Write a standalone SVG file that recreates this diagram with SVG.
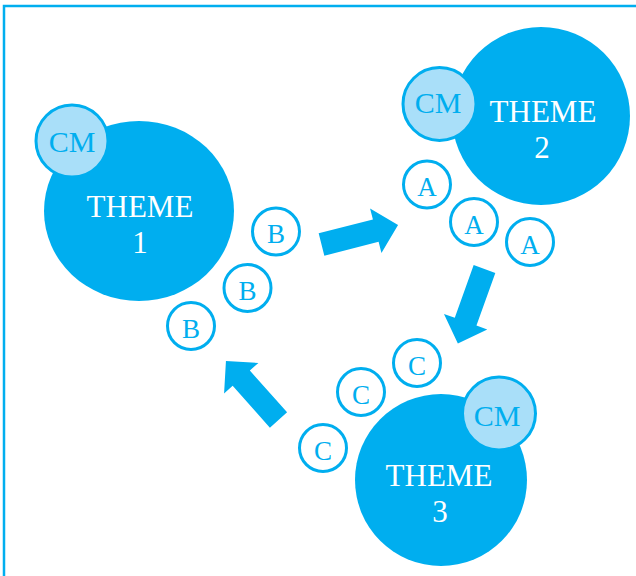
<svg xmlns="http://www.w3.org/2000/svg" xmlns:xlink="http://www.w3.org/1999/xlink" width="636" height="576" viewBox="0 0 636 576">
  <style>
    .frame { fill: none; stroke: #00AEEF; stroke-width: 2.5; }
    .theme { fill: #00AEEF; }
    .theme-label { font-family: "Liberation Serif", "Times New Roman", serif; font-size: 31px; fill: #FFFFFF; text-anchor: middle; }
    .cm { fill: #A9DFF9; stroke: #00AEEF; stroke-width: 3; }
    .cm-label { font-family: "Liberation Serif", "Times New Roman", serif; font-size: 30px; fill: #00AEEF; text-anchor: middle; }
    .item { fill: #FFFFFF; stroke: #00AEEF; stroke-width: 3; }
    .item-label { font-family: "Liberation Serif", "Times New Roman", serif; font-size: 27px; fill: #00AEEF; text-anchor: middle; }
    .arrow { fill: #00AEEF; }
  </style>
  <defs>
    <!-- block arrow pointing along +x, tail centred on the origin -->
    <path id="block-arrow" d="M0,-11.5 L56,-11.5 L56,-23 L79,0 L56,23 L56,11.5 L0,11.5 Z"/>
  </defs>

  <rect class="frame" x="4" y="6" width="640" height="580"/>

  <g id="theme1">
    <ellipse class="theme" cx="139" cy="211" rx="95" ry="90"/>
    <text class="theme-label" x="140" y="217">THEME</text>
    <text class="theme-label" x="140" y="253">1</text>
    <circle class="cm" cx="72" cy="141" r="36"/>
    <text class="cm-label" x="72" y="152">CM</text>
  </g>

  <g id="theme2">
    <circle class="theme" cx="541" cy="116" r="89"/>
    <text class="theme-label" x="543" y="122">THEME</text>
    <text class="theme-label" x="542" y="158">2</text>
    <circle class="cm" cx="439.5" cy="104" r="36.5"/>
    <text class="cm-label" x="438" y="113">CM</text>
  </g>

  <g id="theme3">
    <circle class="theme" cx="441" cy="480" r="86"/>
    <text class="theme-label" x="439" y="486">THEME</text>
    <text class="theme-label" x="440" y="522">3</text>
    <circle class="cm" cx="499" cy="413.5" r="36.5"/>
    <text class="cm-label" x="497" y="426">CM</text>
  </g>

  <g id="items-a">
    <circle class="item" cx="427" cy="184.5" r="23.5"/>
    <text class="item-label" x="427" y="196">A</text>
    <circle class="item" cx="474" cy="222" r="23.5"/>
    <text class="item-label" x="474" y="233.5">A</text>
    <circle class="item" cx="530" cy="242" r="23.5"/>
    <text class="item-label" x="530" y="253.5">A</text>
  </g>

  <g id="items-b">
    <circle class="item" cx="276" cy="231.5" r="23.5"/>
    <text class="item-label" x="276" y="243">B</text>
    <circle class="item" cx="247.5" cy="288" r="23.5"/>
    <text class="item-label" x="247.5" y="299.5">B</text>
    <circle class="item" cx="191" cy="326" r="23.5"/>
    <text class="item-label" x="191" y="337.5">B</text>
  </g>

  <g id="items-c">
    <circle class="item" cx="417" cy="363" r="23.5"/>
    <text class="item-label" x="417" y="374.5">C</text>
    <circle class="item" cx="361" cy="392" r="23.5"/>
    <text class="item-label" x="361" y="403.5">C</text>
    <circle class="item" cx="323" cy="448" r="23.5"/>
    <text class="item-label" x="323" y="459.5">C</text>
  </g>

  <g id="connectors">
    <use class="arrow" xlink:href="#block-arrow" href="#block-arrow" transform="translate(321.5,244.5) rotate(-14.3)"/>
    <use class="arrow" xlink:href="#block-arrow" href="#block-arrow" transform="translate(484.5,269) rotate(109.7)"/>
    <use class="arrow" xlink:href="#block-arrow" href="#block-arrow" transform="translate(278.5,420) rotate(-131.7)"/>
  </g>
</svg>
